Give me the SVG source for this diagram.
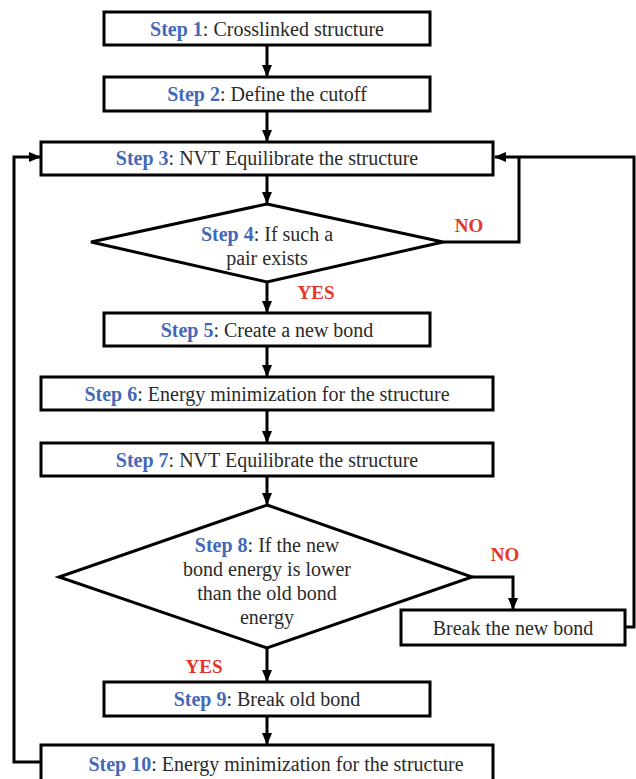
<svg xmlns="http://www.w3.org/2000/svg" width="636" height="779" viewBox="0 0 636 779">
<defs>
<marker id="ah" markerUnits="userSpaceOnUse" markerWidth="12" markerHeight="10" refX="11" refY="5" orient="auto">
<path d="M0,0 L12,5 L0,10 Z" fill="#000"/>
</marker>
<style>
.b{fill:#fff;stroke:#000;stroke-width:3}
.t{font-family:"Liberation Serif","Times New Roman",serif;font-size:20px;fill:#2a2a2a;text-anchor:middle}
.s{font-weight:bold;fill:#4468b8}
.r{font-family:"Liberation Serif","Times New Roman",serif;font-size:19px;font-weight:bold;fill:#e8352b;text-anchor:middle}
.c{fill:none;stroke:#000;stroke-width:3}
</style>
</defs>
<rect width="636" height="779" fill="#fff"/>
<g id="connectors">
<path class="c" d="M267,45 V76" marker-end="url(#ah)"/>
<path class="c" d="M267,111 V141" marker-end="url(#ah)"/>
<path class="c" d="M267,175 V203" marker-end="url(#ah)"/>
<path class="c" d="M267,282 V312" marker-end="url(#ah)"/>
<path class="c" d="M267,346 V376" marker-end="url(#ah)"/>
<path class="c" d="M267,410 V442" marker-end="url(#ah)"/>
<path class="c" d="M267,476 V504" marker-end="url(#ah)"/>
<path class="c" d="M267,648 V681" marker-end="url(#ah)"/>
<path class="c" d="M267,716 V744" marker-end="url(#ah)"/>
<path class="c" d="M443,242 H519 V157"/>
<path class="c" d="M625,627 H634 V157 H495" marker-end="url(#ah)"/>
<path class="c" d="M472,577 H513 V609" marker-end="url(#ah)"/>
<path class="c" d="M41,762 H14 V157 H40" marker-end="url(#ah)"/>
</g>
<g id="step1"><rect class="b" x="104" y="12" width="326" height="33"/><text class="t" x="267" y="36"><tspan class="s">Step 1</tspan>: Crosslinked structure</text></g>
<g id="step2"><rect class="b" x="104" y="77" width="326" height="34"/><text class="t" x="267" y="101"><tspan class="s">Step 2</tspan>: Define the cutoff</text></g>
<g id="step3"><rect class="b" x="41" y="142" width="452" height="33"/><text class="t" x="267" y="165"><tspan class="s">Step 3</tspan>: NVT Equilibrate the structure</text></g>
<g id="step4"><polygon class="b" points="267,204 443,242 267,282 91,242"/><text class="t" x="267" y="241"><tspan class="s">Step 4</tspan>: If such a</text><text class="t" x="267" y="265">pair exists</text></g>
<g id="step5"><rect class="b" x="104" y="313" width="326" height="33"/><text class="t" x="267" y="337"><tspan class="s">Step 5</tspan>: Create a new bond</text></g>
<g id="step6"><rect class="b" x="41" y="377" width="452" height="33"/><text class="t" x="267" y="401"><tspan class="s">Step 6</tspan>: Energy minimization for the structure</text></g>
<g id="step7"><rect class="b" x="41" y="443" width="452" height="33"/><text class="t" x="267" y="467"><tspan class="s">Step 7</tspan>: NVT Equilibrate the structure</text></g>
<g id="step8"><polygon class="b" points="267,505 472,577 267,648 59,577"/><text class="t" x="267" y="552"><tspan class="s">Step 8</tspan>: If the new</text><text class="t" x="267" y="576">bond energy is lower</text><text class="t" x="267" y="600">than the old bond</text><text class="t" x="267" y="624">energy</text></g>
<g id="breaknew"><rect class="b" x="401" y="610" width="224" height="35"/><text class="t" x="513" y="635">Break the new bond</text></g>
<g id="step9"><rect class="b" x="104" y="682" width="326" height="34"/><text class="t" x="267" y="706"><tspan class="s">Step 9</tspan>: Break old bond</text></g>
<g id="step10"><rect class="b" x="41" y="745" width="452" height="36"/><text class="t" x="276" y="771"><tspan class="s">Step 10</tspan>: Energy minimization for the structure</text></g>
<g id="labels">
<text class="r" x="469" y="232">NO</text>
<text class="r" x="316" y="299">YES</text>
<text class="r" x="505" y="561">NO</text>
<text class="r" x="204" y="673">YES</text>
</g>
</svg>
